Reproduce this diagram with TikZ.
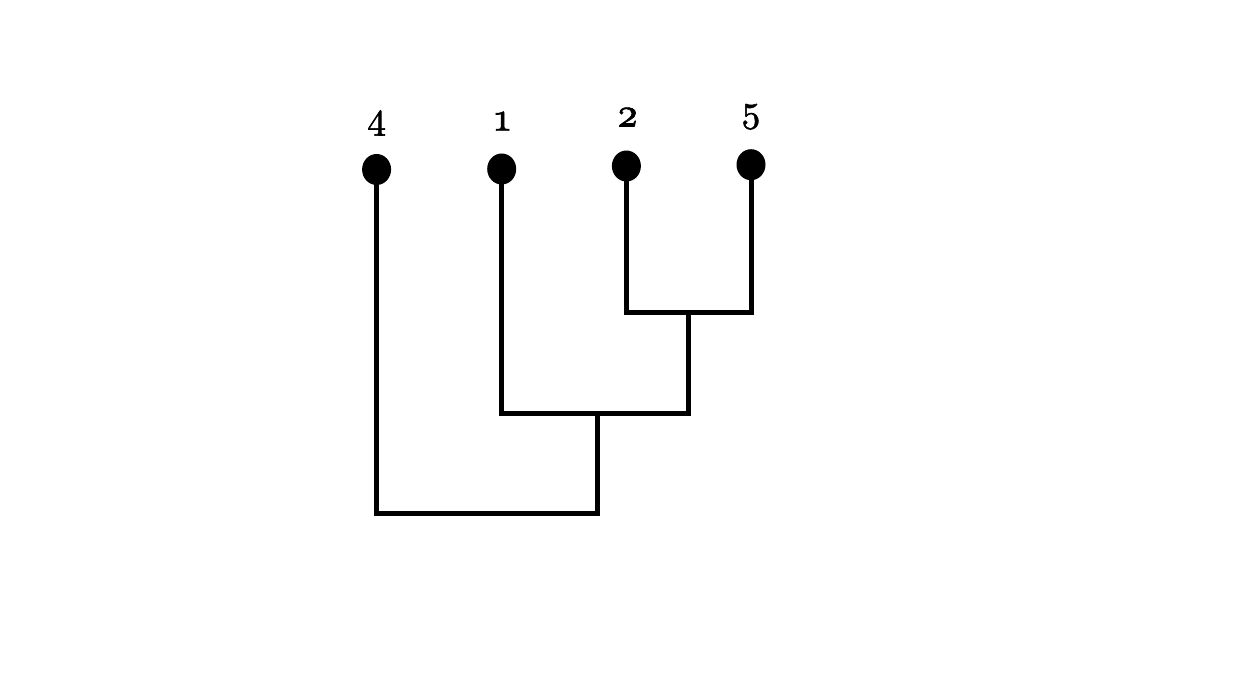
\documentclass[tikz,border=0pt]{standalone}
\usepackage{fontspec}
\newfontfamily\heavyfont{lmroman10-regular}[Extension=.otf,FakeBold=1.6]
\usetikzlibrary{shapes.geometric}
\begin{document}
\begin{tikzpicture}[x=0.75pt,y=-0.75pt,
  leaf/.style={ellipse,fill=black,draw=none,inner sep=0pt,minimum width=21.75pt,minimum height=23.25pt},
  branch/.style={line width=3.75pt,line join=miter,draw=black},
  lab/.style={inner sep=0pt,font=\heavyfont\fontsize{28}{30}\selectfont},
  slab/.style={inner sep=0pt,font=\heavyfont\fontsize{30}{32}\selectfont}]
\useasboundingbox[fill=white] (0,0) rectangle (1258,684);
% leaves
\node[leaf] (d4) at (376.6,169.5) {};
\node[leaf] (d1) at (501.7,169) {};
\node[leaf] (d2) at (626.4,166) {};
\node[leaf] (d5) at (751,164.7) {};
% labels
\node[lab] (l4) at (376.7,123) {4};
\node[slab] (l1) at (502.5,121) {\addfontfeatures{Numbers=OldStyle}1};
\node[slab] (l2) at (627.5,117) {\addfontfeatures{Numbers=OldStyle}2};
\node[lab] (l5) at (751,116.7) {5};
% joins
\coordinate (m25) at (688.3,313);
\coordinate (m125) at (597.5,414);
\coordinate (root) at (597.5,513.5);
% branches
\draw[branch] (d2.center) |- (m25) -| (d5.center);
\draw[branch] (d1.center) |- (m125) -| (m25);
\draw[branch] (d4.center) |- (root) -| (m125);
\end{tikzpicture}
\end{document}
